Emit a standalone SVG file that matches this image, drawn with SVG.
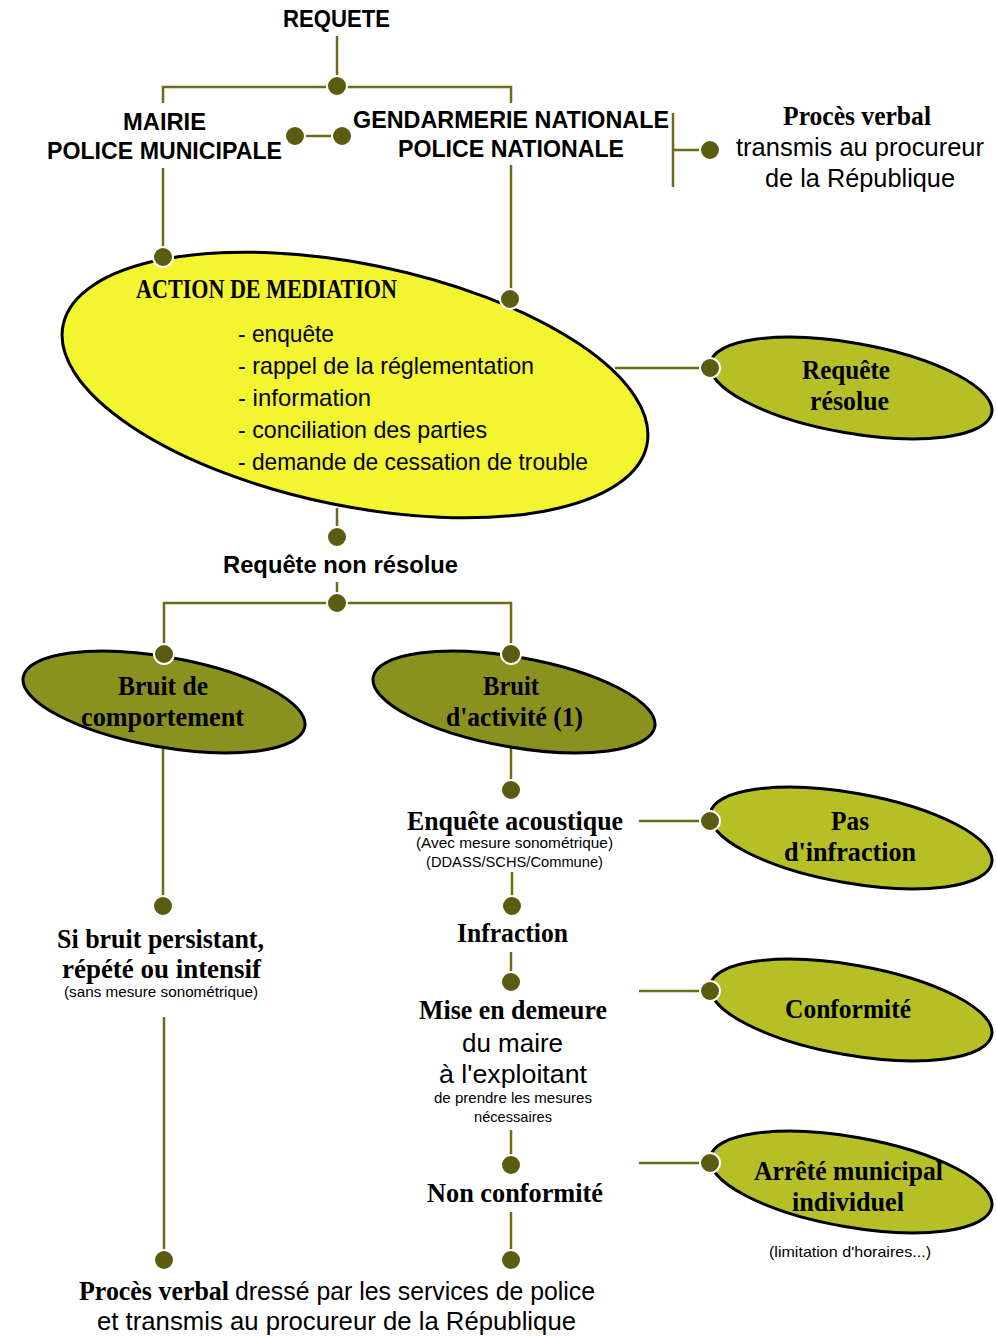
<svg xmlns="http://www.w3.org/2000/svg" width="997" height="1337" viewBox="0 0 997 1337">
<style>
.ln{fill:none;stroke:#6c6c17;stroke-width:2.5}
.dot{fill:#5b5b12;stroke:#fff;stroke-width:2}
.big{fill:#f3f530;stroke:#000;stroke-width:3}
.lg{fill:#b6bf26;stroke:#000;stroke-width:3}
.dk{fill:#8a911e;stroke:#000;stroke-width:3}
text{fill:#000}
.hb{font-family:"Liberation Sans",Arial,sans-serif;font-weight:bold;font-size:23px}
.sb{font-family:"Liberation Serif","Times New Roman",serif;font-weight:bold;font-size:28px}
.r{font-family:"Liberation Sans",Arial,sans-serif;font-size:26px}
.m{font-family:"Liberation Sans",Arial,sans-serif;font-size:24px}
.s{font-family:"Liberation Sans",Arial,sans-serif;font-size:15px}
</style>
<rect width="997" height="1337" fill="#fff"/>
<g id="connectors">
<path class="ln" d="M337,36 V86"/>
<path class="ln" d="M163,103 V87 H511 V103"/>
<path class="ln" d="M295,136 H342"/>
<path class="ln" d="M673,113 V187 M673,150 H710"/>
<path class="ln" d="M163,168 V257"/>
<path class="ln" d="M511,165 V299"/>
<path class="ln" d="M615,368 H710"/>
<path class="ln" d="M337,508 V537"/>
<path class="ln" d="M337,582 V603"/>
<path class="ln" d="M164,654 V603 H511 V654"/>
<path class="ln" d="M163,745 V906"/>
<path class="ln" d="M511,745 V790"/>
<path class="ln" d="M639,821 H710"/>
<path class="ln" d="M512,872 V906"/>
<path class="ln" d="M511,952 V982"/>
<path class="ln" d="M639,991 H710"/>
<path class="ln" d="M511,1130 V1165"/>
<path class="ln" d="M639,1163 H710"/>
<path class="ln" d="M511,1212 V1260"/>
<path class="ln" d="M164,1017 V1260"/>
</g>
<g id="requete">
<text class="hb" x="283" y="27" font-size="22" textLength="107" lengthAdjust="spacingAndGlyphs">REQUETE</text>
</g>
<g id="mairie">
<text class="hb" x="123" y="130" textLength="83" lengthAdjust="spacingAndGlyphs">MAIRIE</text>
<text class="hb" x="47" y="159" textLength="235" lengthAdjust="spacingAndGlyphs">POLICE MUNICIPALE</text>
</g>
<g id="gendarmerie">
<text class="hb" x="353" y="128" textLength="316" lengthAdjust="spacingAndGlyphs">GENDARMERIE NATIONALE</text>
<text class="hb" x="398" y="157" textLength="226" lengthAdjust="spacingAndGlyphs">POLICE NATIONALE</text>
</g>
<g id="pv-top">
<text class="sb" x="783" y="125" textLength="148" lengthAdjust="spacingAndGlyphs">Procès verbal</text>
<text class="r" x="736" y="156" textLength="248" lengthAdjust="spacingAndGlyphs">transmis au procureur</text>
<text class="r" x="765" y="187" textLength="190" lengthAdjust="spacingAndGlyphs">de la République</text>
</g>
<g id="mediation">
<ellipse class="big" cx="355" cy="385" rx="298" ry="121" transform="rotate(11.6 355 385)"/>
<text class="sb" x="136" y="298" font-size="27" textLength="261" lengthAdjust="spacingAndGlyphs">ACTION DE MEDIATION</text>
<text class="m" x="238" y="342" textLength="96" lengthAdjust="spacingAndGlyphs">- enquête</text>
<text class="m" x="238" y="374" textLength="296" lengthAdjust="spacingAndGlyphs">- rappel de la réglementation</text>
<text class="m" x="238" y="406" textLength="133" lengthAdjust="spacingAndGlyphs">- information</text>
<text class="m" x="238" y="438" textLength="249" lengthAdjust="spacingAndGlyphs">- conciliation des parties</text>
<text class="m" x="238" y="470" textLength="350" lengthAdjust="spacingAndGlyphs">- demande de cessation de trouble</text>
</g>
<g id="resolue">
<ellipse class="lg" cx="851" cy="388" rx="143" ry="45" transform="rotate(10 851 388)"/>
<text class="sb" x="802" y="379" textLength="88" lengthAdjust="spacingAndGlyphs">Requête</text>
<text class="sb" x="810" y="410" textLength="79" lengthAdjust="spacingAndGlyphs">résolue</text>
</g>
<g id="non-resolue">
<text class="hb" x="223" y="573" font-size="22" textLength="235" lengthAdjust="spacingAndGlyphs">Requête non résolue</text>
</g>
<g id="comportement">
<ellipse class="dk" cx="164" cy="702" rx="143" ry="45" transform="rotate(10 164 702)"/>
<text class="sb" x="118" y="695" textLength="90" lengthAdjust="spacingAndGlyphs">Bruit de</text>
<text class="sb" x="81" y="726" textLength="163" lengthAdjust="spacingAndGlyphs">comportement</text>
</g>
<g id="activite">
<ellipse class="dk" cx="514" cy="702" rx="143" ry="45" transform="rotate(10 514 702)"/>
<text class="sb" x="483" y="695" textLength="56" lengthAdjust="spacingAndGlyphs">Bruit</text>
<text class="sb" x="446" y="726" textLength="137" lengthAdjust="spacingAndGlyphs">d'activité (1)</text>
</g>
<g id="enquete">
<text class="sb" x="407" y="830" textLength="216" lengthAdjust="spacingAndGlyphs">Enquête acoustique</text>
<text class="s" x="416" y="848" textLength="197" lengthAdjust="spacingAndGlyphs">(Avec mesure sonométrique)</text>
<text class="s" x="426" y="867" textLength="177" lengthAdjust="spacingAndGlyphs">(DDASS/SCHS/Commune)</text>
</g>
<g id="pas-infraction">
<ellipse class="lg" cx="851" cy="838" rx="143" ry="45" transform="rotate(10 851 838)"/>
<text class="sb" x="831" y="830" textLength="38" lengthAdjust="spacingAndGlyphs">Pas</text>
<text class="sb" x="784" y="861" textLength="132" lengthAdjust="spacingAndGlyphs">d'infraction</text>
</g>
<g id="infraction">
<text class="sb" x="457" y="942" textLength="111" lengthAdjust="spacingAndGlyphs">Infraction</text>
</g>
<g id="mise-en-demeure">
<text class="sb" x="419" y="1019" textLength="188" lengthAdjust="spacingAndGlyphs">Mise en demeure</text>
<text class="r" x="462" y="1052" textLength="101" lengthAdjust="spacingAndGlyphs">du maire</text>
<text class="r" x="439" y="1083" textLength="148" lengthAdjust="spacingAndGlyphs">à l'exploitant</text>
<text class="s" x="434" y="1103" textLength="158" lengthAdjust="spacingAndGlyphs">de prendre les mesures</text>
<text class="s" x="474" y="1122" textLength="78" lengthAdjust="spacingAndGlyphs">nécessaires</text>
</g>
<g id="conformite">
<ellipse class="lg" cx="851" cy="1010" rx="143" ry="45" transform="rotate(10 851 1010)"/>
<text class="sb" x="785" y="1018" textLength="126" lengthAdjust="spacingAndGlyphs">Conformité</text>
</g>
<g id="non-conformite">
<text class="sb" x="427" y="1202" textLength="176" lengthAdjust="spacingAndGlyphs">Non conformité</text>
</g>
<g id="arrete">
<ellipse class="lg" cx="851" cy="1182" rx="143" ry="45" transform="rotate(10 851 1182)"/>
<text class="sb" x="754" y="1180" textLength="189" lengthAdjust="spacingAndGlyphs">Arrêté municipal</text>
<text class="sb" x="792" y="1211" textLength="112" lengthAdjust="spacingAndGlyphs">individuel</text>
<text class="s" x="769" y="1257" textLength="162" lengthAdjust="spacingAndGlyphs">(limitation d'horaires...)</text>
</g>
<g id="si-bruit">
<text class="sb" x="57" y="948" textLength="207" lengthAdjust="spacingAndGlyphs">Si bruit persistant,</text>
<text class="sb" x="62" y="978" textLength="199" lengthAdjust="spacingAndGlyphs">répété ou intensif</text>
<text class="s" x="64" y="997" textLength="194" lengthAdjust="spacingAndGlyphs">(sans mesure sonométrique)</text>
</g>
<g id="pv-bottom">
<text class="sb" x="79" y="1300" textLength="150" lengthAdjust="spacingAndGlyphs">Procès verbal</text>
<text class="r" x="235" y="1300" textLength="360" lengthAdjust="spacingAndGlyphs">dressé par les services de police</text>
<text class="r" x="97" y="1330" textLength="479" lengthAdjust="spacingAndGlyphs">et transmis au procureur de la République</text>
</g>
<g id="dots">
<circle class="dot" cx="337" cy="86" r="10"/>
<circle class="dot" cx="295" cy="136" r="10"/>
<circle class="dot" cx="342" cy="136" r="10"/>
<circle class="dot" cx="710" cy="150" r="10"/>
<circle class="dot" cx="163" cy="257" r="10"/>
<circle class="dot" cx="510" cy="299" r="10"/>
<circle class="dot" cx="710" cy="368" r="10"/>
<circle class="dot" cx="337" cy="537" r="10"/>
<circle class="dot" cx="337" cy="603" r="10"/>
<circle class="dot" cx="164" cy="654" r="10"/>
<circle class="dot" cx="511" cy="654" r="10"/>
<circle class="dot" cx="511" cy="790" r="10"/>
<circle class="dot" cx="710" cy="821" r="10"/>
<circle class="dot" cx="163" cy="906" r="10"/>
<circle class="dot" cx="512" cy="906" r="10"/>
<circle class="dot" cx="511" cy="982" r="10"/>
<circle class="dot" cx="710" cy="991" r="10"/>
<circle class="dot" cx="511" cy="1165" r="10"/>
<circle class="dot" cx="710" cy="1163" r="10"/>
<circle class="dot" cx="164" cy="1260" r="10"/>
<circle class="dot" cx="511" cy="1260" r="10"/>
</g>
</svg>
